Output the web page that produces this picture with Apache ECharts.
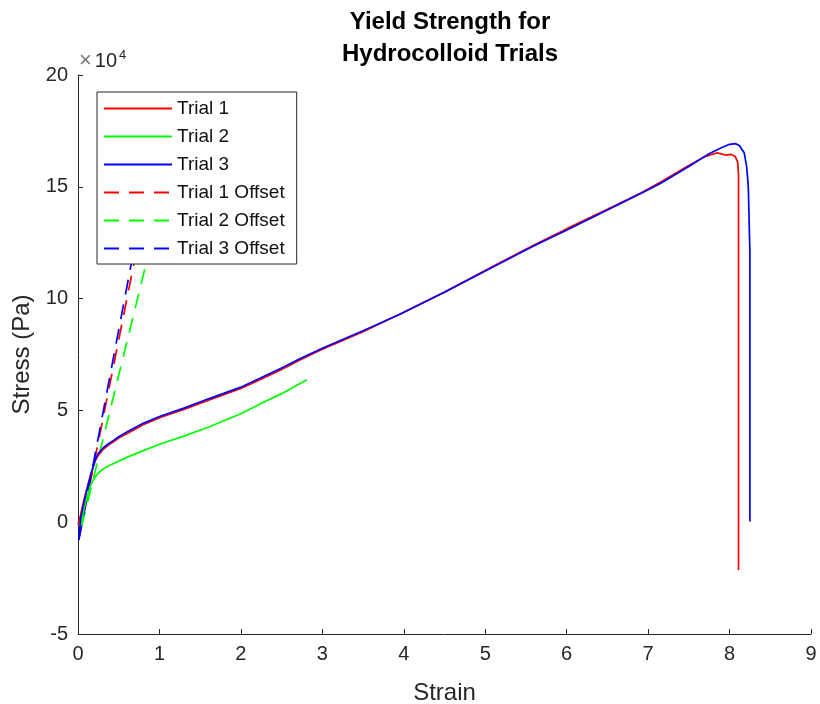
<!DOCTYPE html>
<html>
<head>
<meta charset="utf-8">
<script src="https://cdn.jsdelivr.net/npm/echarts@6/dist/echarts.min.js"></script>
<style>
  html, body { margin: 0; padding: 0; background: #fff; }
  #chart { width: 820px; height: 704px; }
</style>
</head>
<body>
<div id="chart"></div>
<script>
// Tensile test curves, stress in Pa (plotted with a ×10^4 axis scale)
const trial1Strain = [0.00, 0.03, 0.06, 0.09, 0.15, 0.21, 0.25, 0.31, 0.37, 0.44, 0.50, 0.60, 0.80, 1.01, 1.30, 1.62, 2.00, 2.24, 2.50, 2.73, 3.00, 3.50, 3.96, 4.50, 5.19, 5.60, 6.01, 6.50, 6.91, 7.15, 7.52, 7.70, 7.85, 7.95, 8.02, 8.07, 8.10, 8.11, 8.11, 8.11];
const trial1Stress = [-1000, 3000, 8000, 12500, 20300, 27300, 30000, 32600, 34400, 36100, 37600, 39600, 43600, 46800, 50400, 54800, 59800, 63800, 68300, 72700, 77400, 85200, 93200, 103000, 116200, 124000, 131400, 140000, 147200, 152000, 160000, 163500, 165200, 164200, 164500, 163500, 161000, 155000, 100000, -21400];

const trial2Strain = [0.03, 0.06, 0.09, 0.15, 0.19, 0.23, 0.29, 0.36, 0.45, 0.60, 0.80, 1.01, 1.30, 1.62, 2.00, 2.24, 2.50, 2.81];
const trial2Stress = [-2000, 3500, 8500, 16000, 19000, 21200, 23300, 24900, 26500, 29000, 32000, 35000, 38500, 42800, 48500, 53000, 57500, 63700];

const trial3Strain = [0.01, 0.03, 0.06, 0.09, 0.15, 0.21, 0.25, 0.31, 0.37, 0.44, 0.50, 0.60, 0.80, 1.01, 1.30, 1.62, 2.00, 2.24, 2.50, 2.73, 3.00, 3.50, 3.96, 4.50, 5.19, 5.60, 6.01, 6.50, 6.91, 7.15, 7.52, 7.73, 7.90, 8.00, 8.07, 8.12, 8.18, 8.21, 8.23, 8.25, 8.25, 8.25];
const trial3Stress = [-7900, 1000, 6500, 11500, 20400, 27900, 30800, 33300, 35000, 36700, 38200, 40300, 44200, 47400, 51000, 55400, 60400, 64500, 69000, 73200, 77800, 85600, 93100, 102800, 115900, 123600, 130800, 139600, 147000, 151500, 159500, 164400, 167500, 169000, 169300, 168500, 165200, 159000, 150200, 120400, 60000, 300];

// 0.2%-style offset lines (start and end of each straight segment)
const offset1Strain = [0.02, 1.05];
const offset1Stress = [-6000, 182000];
const offset2Strain = [0.043, 1.27];
const offset2Stress = [-2000, 180000];
const offset3Strain = [0.01, 1.00];
const offset3Stress = [-8000, 182000];

const seriesNames = ['Trial 1', 'Trial 2', 'Trial 3', 'Trial 1 Offset', 'Trial 2 Offset', 'Trial 3 Offset'];
const xTicks = [0, 1, 2, 3, 4, 5, 6, 7, 8, 9];
const yTicks = [-50000, 0, 50000, 100000, 150000, 200000];

const pairs = (xs, ys) => xs.map((x, i) => [x, ys[i]]);

const RED = '#ff0000', GREEN = '#00ff00', BLUE = '#0000ff';
const AXIS = '#262626';
const FONT = '"Liberation Sans", Arial, Helvetica, sans-serif';

function lineSeries(name, data, color, dashed) {
  return {
    name: name,
    type: 'line',
    data: data,
    symbol: 'none',
    showSymbol: false,
    smooth: false,
    clip: true,
    itemStyle: { color: color },
    lineStyle: { color: color, width: 1.7, type: dashed ? [15, 10] : 'solid' },
    emphasis: { disabled: true },
    z: dashed ? 2 : 3
  };
}

const chart = echarts.init(document.getElementById('chart'), null, { renderer: 'canvas' });

chart.setOption({
  animation: false,
  backgroundColor: '#ffffff',
  textStyle: { fontFamily: FONT },
  title: {
    text: 'Yield Strength for\nHydrocolloid Trials',
    left: 445,
    top: 1,
    textAlign: 'center',
    textStyle: { fontFamily: FONT, fontWeight: 'bold', fontSize: 24, lineHeight: 32, color: '#000' }
  },
  grid: { left: 78, top: 75, width: 733, height: 559, containLabel: false, outerBoundsMode: 'none' },
  legend: {
    data: seriesNames,
    orient: 'vertical',
    left: 97,
    top: 92,
    padding: [7, 12, 6, 6],
    itemWidth: 68,
    itemHeight: 16,
    itemGap: 9,
    backgroundColor: '#ffffff',
    borderColor: AXIS,
    borderWidth: 1,
    borderRadius: 0,
    selectedMode: false,
    itemStyle: { opacity: 0 },
    textStyle: { fontFamily: FONT, fontSize: 19, lineHeight: 19, color: '#111', padding: [0, 0, 0, 0] },
    z: 10
  },
  xAxis: {
    type: 'value',
    min: xTicks[0],
    max: xTicks[xTicks.length - 1],
    interval: 1,
    name: 'Strain',
    nameLocation: 'middle',
    nameGap: 47,
    nameTextStyle: { fontFamily: FONT, fontSize: 24, color: AXIS },
    axisLine: { show: true, onZero: false, lineStyle: { color: AXIS, width: 1 } },
    axisTick: { show: true, inside: true, length: 5, lineStyle: { color: AXIS } },
    axisLabel: { margin: 10, fontSize: 20, color: AXIS, fontFamily: FONT },
    splitLine: { show: false }
  },
  yAxis: {
    type: 'value',
    min: yTicks[0],
    max: yTicks[yTicks.length - 1],
    interval: 50000,
    name: 'Stress (Pa)',
    nameLocation: 'middle',
    nameRotate: 90,
    nameGap: 43,
    nameTextStyle: { fontFamily: FONT, fontSize: 24, color: AXIS },
    axisLine: { show: true, onZero: false, lineStyle: { color: AXIS, width: 1 } },
    axisTick: { show: true, inside: true, length: 5, lineStyle: { color: AXIS } },
    axisLabel: {
      margin: 10, fontSize: 20, color: AXIS, fontFamily: FONT,
      formatter: v => String(v / 10000)
    },
    splitLine: { show: false }
  },
  graphic: [{
    type: 'text',
    left: 79,
    top: 49,
    style: {
      text: '{m|×}{b|10}{s|4}',
      rich: {
        m: { fontFamily: FONT, fontSize: 22, fill: '#777', padding: [2, 3, 0, 0] },
        b: { fontFamily: FONT, fontSize: 20, fill: AXIS, padding: [2, 1, 0, 0] },
        s: { fontFamily: FONT, fontSize: 13, fill: AXIS, padding: [0, 0, 9, 1] }
      }
    }
  }],
  series: [
    lineSeries('Trial 1', pairs(trial1Strain, trial1Stress), RED, false),
    lineSeries('Trial 2', pairs(trial2Strain, trial2Stress), GREEN, false),
    lineSeries('Trial 3', pairs(trial3Strain, trial3Stress), BLUE, false),
    lineSeries('Trial 1 Offset', pairs(offset1Strain, offset1Stress), RED, true),
    lineSeries('Trial 2 Offset', pairs(offset2Strain, offset2Stress), GREEN, true),
    lineSeries('Trial 3 Offset', pairs(offset3Strain, offset3Stress), BLUE, true)
  ]
});
</script>
</body>
</html>
